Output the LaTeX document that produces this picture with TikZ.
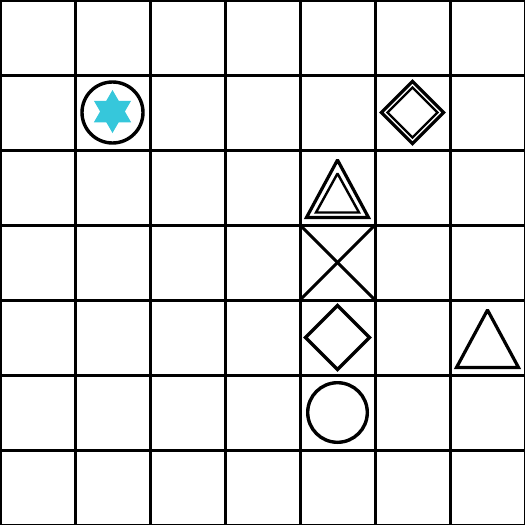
\documentclass[tikz,border=0pt]{standalone}
\definecolor{starcyan}{RGB}{54,199,219}
\begin{document}
\begin{tikzpicture}[x=1pt,y=-1pt,
  gridline/.style={line width=3pt,black},
  shp/.style={line width=3.2pt,black,line join=miter},
  thin/.style={line width=2.4pt,black,line join=miter}]
\useasboundingbox (0,0) rectangle (525,525);
\clip (0,0) rectangle (525,525);
\fill[white] (0,0) rectangle (525,525);
\foreach \i in {0,75,...,525}{
  \draw[gridline] (\i,-5) -- (\i,530);
  \draw[gridline] (-5,\i) -- (530,\i);
}
% circle with hexagram
\draw[shp,line width=3.4pt] (112.5,112.5) circle (30.5);
\fill[starcyan] (112.5,90) -- (131.1,122.25) -- (93.9,122.25) -- cycle;
\fill[starcyan] (112.5,133) -- (131.1,100.75) -- (93.9,100.75) -- cycle;
% double diamond
\draw[shp] (412.5,81.3) -- (443.7,112.5) -- (412.5,143.7) -- (381.3,112.5) -- cycle;
\draw[thin] (412.5,87.5) -- (437.5,112.5) -- (412.5,137.5) -- (387.5,112.5) -- cycle;
% double triangle
\draw[shp,line join=miter,miter limit=2] (337.5,160) -- (368.5,217.5) -- (306.5,217.5) -- cycle;
\draw[thin,miter limit=2] (337.5,173.5) -- (359,212.5) -- (316,212.5) -- cycle;
% cross
\draw[gridline] (300,225) -- (375,300);
\draw[gridline] (375,225) -- (300,300);
% diamond
\draw[shp] (337.5,305.5) -- (369.5,337.5) -- (337.5,369.5) -- (305.5,337.5) -- cycle;
% circle
\draw[shp,line width=3.4pt] (337.5,412.5) circle (29.8);
% single triangle
\draw[shp,miter limit=2] (487.5,310) -- (518.5,367.5) -- (456.5,367.5) -- cycle;
\end{tikzpicture}
\end{document}
